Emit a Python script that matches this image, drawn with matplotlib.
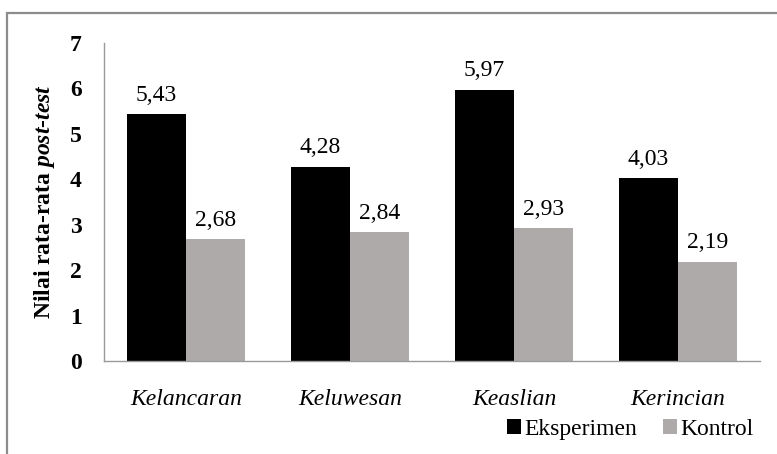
import matplotlib
matplotlib.use("Agg")
import matplotlib.pyplot as plt
from matplotlib.patches import Rectangle
import numpy as np

categories = ["Kelancaran", "Keluwesan", "Keaslian", "Kerincian"]
eksperimen = [5.43, 4.28, 5.97, 4.03]
kontrol = [2.68, 2.84, 2.93, 2.19]
series_names = ["Eksperimen", "Kontrol"]
y_ticks = [0, 1, 2, 3, 4, 5, 6, 7]

plt.rcParams["font.family"] = ["Liberation Serif", "DejaVu Serif"]
plt.rcParams["mathtext.fontset"] = "custom"
plt.rcParams["mathtext.rm"] = "Liberation Serif"
plt.rcParams["mathtext.bf"] = "Liberation Serif:italic:bold"

FS = 17

fig = plt.figure(figsize=(7.77, 4.54), dpi=100)
ax = fig.add_axes([104 / 777, 93 / 454, 656 / 777, 318 / 454])

# outer chart frame
fig.patches.append(Rectangle((7 / 777, -0.1), 1.1, (454 - 13) / 454 + 0.1,
                             transform=fig.transFigure, fill=False,
                             edgecolor="#8c8c8c", linewidth=1.6))

x = np.arange(len(categories))
w = 0.36
b1 = ax.bar(x - w / 2, eksperimen, w, color="black", label=series_names[0])
b2 = ax.bar(x + w / 2, kontrol, w, color="#aeaaa9", label=series_names[1])

for bars, vals in ((b1, eksperimen), (b2, kontrol)):
    for rect, v in zip(bars, vals):
        ax.annotate(f"{v:.2f}".replace(".", ","),
                    (rect.get_x() + rect.get_width() / 2, v),
                    xytext=(0, 6), textcoords="offset points",
                    ha="center", va="bottom", fontsize=FS)

ax.set_xlim(-0.5, len(categories) - 0.5)
ax.set_ylim(0, 7)
ax.set_yticks(y_ticks)
ax.set_yticklabels([str(t) for t in y_ticks], fontsize=FS, fontweight="bold")
ax.set_xticks(x)
ax.set_xticklabels(categories, fontsize=FS, style="italic")
ax.tick_params(axis="both", length=0)
ax.tick_params(axis="y", pad=16)
ax.tick_params(axis="x", pad=20)

for s in ("top", "right"):
    ax.spines[s].set_visible(False)
for s in ("left", "bottom"):
    ax.spines[s].set_color("#9a9a9a")
    ax.spines[s].set_linewidth(1.0)

ax.set_ylabel(r"Nilai rata-rata $\mathbf{post}$-$\mathbf{test}$", fontsize=FS,
              fontweight="bold", labelpad=9)

leg = ax.legend(loc="lower right", bbox_to_anchor=(754 / 777, 14 / 454),
                bbox_transform=fig.transFigure, ncol=2, frameon=False,
                fontsize=FS, handlelength=0.6, handleheight=0.6,
                handletextpad=0.15, columnspacing=1.1, borderaxespad=0,
                borderpad=0)

fig.savefig("out.png", dpi=100)
